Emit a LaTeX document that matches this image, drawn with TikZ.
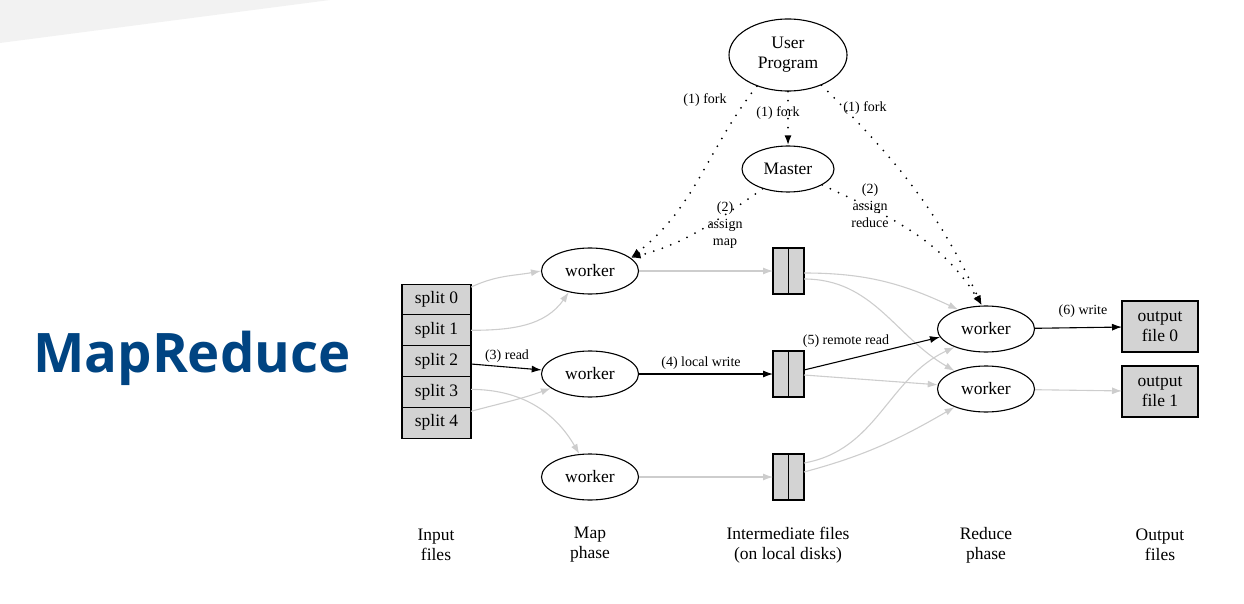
\documentclass[tikz,border=0pt]{standalone}
\usepackage{fontspec}
\setmainfont{Liberation Serif}
\newfontfamily\titlefont{Open Sans}
\usetikzlibrary{shapes.geometric,arrows.meta,positioning}

\definecolor{titleblue}{RGB}{0,68,130}
\definecolor{edgegray}{RGB}{205,205,205}
\definecolor{filegray}{RGB}{211,211,211}
\definecolor{bandgray}{RGB}{242,242,242}

\tikzset{
  proc/.style={draw, ellipse, line width=1.1pt, fill=white, minimum width=97pt, minimum height=46pt, inner sep=0pt, font=\fontsize{17.5}{20}\selectfont},
  filebox/.style={draw, rectangle, line width=1.1pt, fill=filegray, inner sep=0pt, outer sep=0pt, font=\fontsize{17.5}{20}\selectfont},
  splitbox/.style={filebox, minimum width=69pt, minimum height=30.8pt},
  halfbox/.style={filebox, minimum width=15.5pt, minimum height=46pt},
  outfile/.style={filebox, minimum width=76pt, minimum height=51pt, align=center},
  lbl/.style={font=\fontsize{14}{17}\selectfont, inner sep=1pt, align=center},
  phaselbl/.style={font=\fontsize{17.5}{20}\selectfont, align=center},
  flow/.style={-{Latex[length=10pt,width=7pt]}, line width=1.1pt},
  grayflow/.style={flow, draw=edgegray},
  ctrl/.style={flow, line cap=round, dash pattern=on 0pt off 9pt, line width=2pt},
}

\begin{document}
\begin{tikzpicture}[x=1pt, y=1pt]
\useasboundingbox (0,0) rectangle (1244,-604);
% slide band and title
\fill[bandgray] (0,0) -- (330,0) -- (0,-43) -- cycle;
\node[anchor=base west, inner sep=0pt, text=titleblue, font=\titlefont\bfseries\fontsize{54.5}{60}\selectfont] (title) at (33,-372) {MapReduce};

% user program and master
\node[proc, minimum width=118pt, minimum height=72pt, align=center] (up) at (788,-55) {User\\Program};
\node[proc, minimum width=92pt] (master) at (788,-169) {Master};

% input files
\node[splitbox] (s0) at (436.5,-299.5) {split 0};
\node[splitbox, below=0pt of s0] (s1) {split 1};
\node[splitbox, below=0pt of s1] (s2) {split 2};
\node[splitbox, below=0pt of s2] (s3) {split 3};
\node[splitbox, below=0pt of s3] (s4) {split 4};

% map phase
\node[proc] (m0) at (590,-271) {worker};
\node[proc] (m1) at (590,-374) {worker};
\node[proc] (m2) at (590,-477) {worker};

% intermediate files
\node[halfbox] (i0a) at (780.75,-271) {};
\node[halfbox, right=0pt of i0a] (i0b) {};
\node[halfbox] (i1a) at (780.75,-374) {};
\node[halfbox, right=0pt of i1a] (i1b) {};
\node[halfbox] (i2a) at (780.75,-477) {};
\node[halfbox, right=0pt of i2a] (i2b) {};

% reduce phase
\node[proc] (r0) at (986,-329) {worker};
\node[proc] (r1) at (986,-389) {worker};

% output files
\node[outfile] (o0) at (1160,-326.5) {output\\file 0};
\node[outfile] (o1) at (1160,-391.5) {output\\file 1};

% phase captions
\node[phaselbl] (pin) at (436,-545) {Input\\files};
\node[phaselbl] (pmap) at (590,-545) {Map\\phase};
\node[phaselbl] (pmid) at (788,-545) {Intermediate files\\(on local disks)};
\node[phaselbl] (pred) at (986,-545) {Reduce\\phase};
\node[phaselbl] (pout) at (1160,-545) {Output\\files};

% fork and assign
\draw[ctrl] (up) -- (master);
\draw[ctrl] (up.225) to[out=232,in=38] (m0.18);
\draw[ctrl] (master.218) to[out=215,in=15] (m0.18);
\draw[ctrl] (up.318) to[out=315,in=115] (r0.100);
\draw[ctrl] (master.335) to[out=335,in=122] (r0.100);
\node[lbl] (f0) at (705,-100) {(1) fork};
\node[lbl] (f1) at (778,-113) {(1) fork};
\node[lbl] (f2) at (865,-108) {(1) fork};
\node[lbl] (amap) at (725,-225) {(2)\\assign\\map};
\node[lbl] (ared) at (870,-206) {(2)\\assign\\reduce};

% read splits
\draw[grayflow] ([yshift=-3pt]s0.north east) to[out=25,in=190] (m0.west);
\draw[grayflow] (s1.east) to[out=0,in=235] (m0.225);
\draw[flow] (s2) -- (m1);
\draw[grayflow] ([yshift=2.5pt]s3.east) to[out=0,in=120] (m2.115);
\draw[grayflow] ([yshift=-4pt]s4.north east) to[out=15,in=200] (m1.200);
\node[lbl] (l3) at (507,-356) {(3) read};

% local write
\draw[grayflow] (m0) -- (i0a);
\draw[flow] (m1) -- (i1a);
\draw[grayflow] (m2) -- (i2a);
\node[lbl] (l4) at (701,-363) {(4) local write};

% remote read
\draw[grayflow] ([yshift=-2pt]i0b.east) to[out=0,in=155] (r0.145);
\draw[grayflow] ([yshift=-8pt]i0b.east) to[out=0,in=150] (r1.150);
\draw[flow] ([yshift=4pt]i1b.east) -- (r0.190);
\draw[grayflow] ([yshift=-1pt]i1b.east) -- (r1.175);
\draw[grayflow] ([yshift=14pt]i2b.east) to[out=10,in=205] (r0.210);
\draw[grayflow] ([yshift=5pt]i2b.east) to[out=15,in=210] (r1.210);
\node[lbl] (l5) at (846,-341) {(5) remote read};

% write output
\draw[flow] (r0) -- (o0);
\draw[grayflow] (r1) -- (o1);
\node[lbl] (l6) at (1083,-311) {(6) write};
\end{tikzpicture}
\end{document}
